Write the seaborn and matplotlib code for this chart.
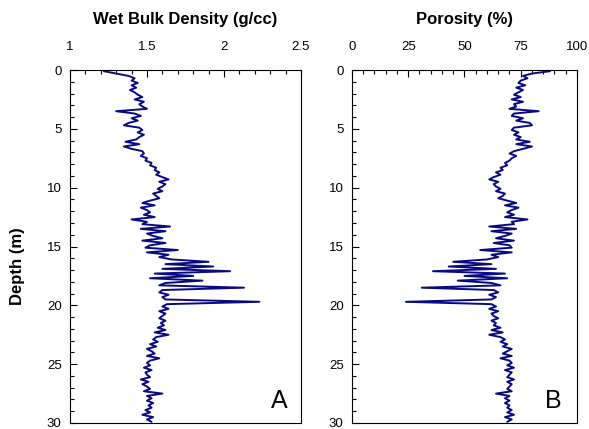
import numpy as np
import pandas as pd
import matplotlib
matplotlib.use("Agg")
import matplotlib.pyplot as plt
from matplotlib.ticker import MultipleLocator
import seaborn as sns

depth = [0.1, 0.3, 0.5, 0.7, 0.9, 1.1, 1.3, 1.5, 1.7, 1.9,
         2.1, 2.3, 2.5, 2.7, 2.9, 3.1, 3.3, 3.5, 3.7, 3.9,
         4.1, 4.3, 4.5, 4.7, 4.9, 5.1, 5.3, 5.5, 5.7, 5.9,
         6.1, 6.3, 6.5, 6.7, 6.9, 7.1, 7.3, 7.5, 7.7, 7.9,
         8.1, 8.3, 8.5, 8.7, 8.9, 9.1, 9.3, 9.5, 9.7, 9.9,
         10.1, 10.3, 10.5, 10.7, 10.9, 11.1, 11.3, 11.5, 11.7, 11.9,
         12.1, 12.3, 12.5, 12.7, 12.9, 13.1, 13.3, 13.5, 13.7, 13.9,
         14.1, 14.3, 14.5, 14.7, 14.9, 15.1, 15.3, 15.5, 15.7, 15.9,
         16.1, 16.3, 16.5, 16.7, 16.9, 17.1, 17.3, 17.5, 17.7, 17.9,
         18.1, 18.3, 18.5, 18.7, 18.9, 19.1, 19.3, 19.5, 19.7, 19.9,
         20.1, 20.3, 20.5, 20.7, 20.9, 21.1, 21.3, 21.5, 21.7, 21.9,
         22.1, 22.3, 22.5, 22.7, 22.9, 23.1, 23.3, 23.5, 23.7, 23.9,
         24.1, 24.3, 24.5, 24.7, 24.9, 25.1, 25.3, 25.5, 25.7, 25.9,
         26.1, 26.3, 26.5, 26.7, 26.9, 27.1, 27.3, 27.5, 27.7, 27.9,
         28.1, 28.3, 28.5, 28.7, 28.9, 29.1, 29.3, 29.5, 29.7, 29.9]

density = [1.22, 1.30, 1.38, 1.42, 1.40, 1.44, 1.40, 1.43, 1.39, 1.42,
           1.44, 1.47, 1.42, 1.48, 1.45, 1.47, 1.50, 1.30, 1.42, 1.46,
           1.40, 1.44, 1.38, 1.35, 1.45, 1.47, 1.44, 1.48, 1.45, 1.43,
           1.36, 1.45, 1.35, 1.40, 1.47, 1.48, 1.46, 1.50, 1.49, 1.53,
           1.52, 1.56, 1.55, 1.58, 1.56, 1.60, 1.64, 1.58, 1.62, 1.60,
           1.57, 1.60, 1.54, 1.56, 1.58, 1.52, 1.47, 1.55, 1.46, 1.50,
           1.52, 1.48, 1.55, 1.40, 1.50, 1.47, 1.65, 1.46, 1.62, 1.50,
           1.54, 1.60, 1.47, 1.62, 1.52, 1.49, 1.70, 1.50, 1.64, 1.58,
           1.66, 1.90, 1.62, 1.93, 1.60, 2.04, 1.55, 1.80, 1.52, 1.86,
           1.62, 1.58, 2.13, 1.60, 1.58, 1.64, 1.60, 1.62, 2.23, 1.63,
           1.60, 1.64, 1.58, 1.62, 1.60, 1.58, 1.62, 1.59, 1.61, 1.57,
           1.62, 1.55, 1.64, 1.56, 1.54, 1.57, 1.52, 1.56, 1.50, 1.53,
           1.55, 1.50, 1.58, 1.52, 1.50, 1.52, 1.48, 1.53, 1.49, 1.50,
           1.52, 1.46, 1.51, 1.47, 1.50, 1.52, 1.48, 1.60, 1.50, 1.53,
           1.50, 1.54, 1.51, 1.53, 1.49, 1.52, 1.47, 1.54, 1.50, 1.53]

porosity = [88, 80, 76, 78, 75, 74, 77, 73, 76, 74,
            72, 75, 71, 76, 72, 73, 70, 83, 72, 71,
            76, 73, 79, 80, 72, 71, 74, 72, 75, 73,
            79, 73, 80, 76, 72, 70, 73, 71, 70, 68,
            69, 66, 67, 64, 66, 63, 61, 65, 63, 64,
            66, 64, 68, 67, 65, 69, 73, 68, 74, 71,
            69, 72, 68, 78, 71, 72, 61, 73, 62, 71,
            68, 64, 72, 63, 70, 71, 57, 71, 62, 65,
            60, 45, 62, 43, 64, 36, 68, 50, 69, 47,
            62, 66, 31, 63, 65, 61, 64, 62, 24, 62,
            64, 61, 65, 62, 63, 65, 62, 64, 63, 66,
            62, 67, 61, 66, 68, 66, 69, 67, 71, 69,
            67, 71, 66, 70, 71, 69, 72, 68, 71, 70,
            69, 72, 69, 71, 70, 69, 71, 64, 70, 68,
            70, 68, 70, 69, 71, 69, 72, 68, 71, 69]

df = pd.DataFrame({"depth": depth, "density": density, "porosity": porosity})

sns.set_style("ticks")
plt.rcParams["font.family"] = ["Liberation Sans", "DejaVu Sans"]
plt.rcParams["text.color"] = "black"
plt.rcParams["xtick.color"] = "black"
plt.rcParams["ytick.color"] = "black"

line_color = "#0a0a80"

fig = plt.figure(figsize=(5.89, 4.29), dpi=100)
ax1 = fig.add_axes([0.1188, 0.014, 0.3922, 0.8228])
ax2 = fig.add_axes([0.5976, 0.014, 0.382, 0.8228])

sns.lineplot(data=df, x="density", y="depth", sort=False, estimator=None,
             orient="y", color=line_color, lw=1.4, ax=ax1)
sns.lineplot(data=df, x="porosity", y="depth", sort=False, estimator=None,
             orient="y", color=line_color, lw=1.4, ax=ax2)

panels = [(ax1, (1, 2.5), 0.5, 0.1, "Wet Bulk Density (g/cc)", "A", 0.94),
          (ax2, (0, 100), 25, 5, "Porosity (%)", "B", 0.933)]
for ax, xlim, major, minor, title, tag, tx in panels:
    ax.set_xlim(*xlim)
    ax.set_ylim(30, 0)
    ax.xaxis.set_major_locator(MultipleLocator(major))
    ax.xaxis.set_minor_locator(MultipleLocator(minor))
    ax.yaxis.set_major_locator(MultipleLocator(5))
    ax.yaxis.set_minor_locator(MultipleLocator(1))
    ax.xaxis.tick_top()
    ax.tick_params(which="both", direction="in", top=True, bottom=False,
                   left=True, right=False, labelsize=9.5, width=0.8,
                   colors="black")
    ax.tick_params(which="major", length=5)
    ax.tick_params(which="minor", length=3)
    ax.tick_params(axis="x", pad=12)
    ax.tick_params(axis="y", pad=6)
    ax.xaxis.set_major_formatter(plt.FuncFormatter(lambda v, p: f"{v:g}"))
    ax.set_xlabel("")
    ax.set_ylabel("")
    for s in ax.spines.values():
        s.set_linewidth(0.8)
        s.set_color("black")
    ax.set_title(title, fontsize=12, fontweight="bold", y=1.142, pad=0,
                 va="center", color="black")
    ax.text(tx, 0.042, tag, transform=ax.transAxes, fontsize=18,
            ha="right", va="baseline", color="black")

fig.text(18 / 589, 0.38, "Depth (m)", rotation=90, fontsize=12,
         fontweight="bold", ha="center", va="center", color="black")

fig.savefig("out.png", dpi=100)
